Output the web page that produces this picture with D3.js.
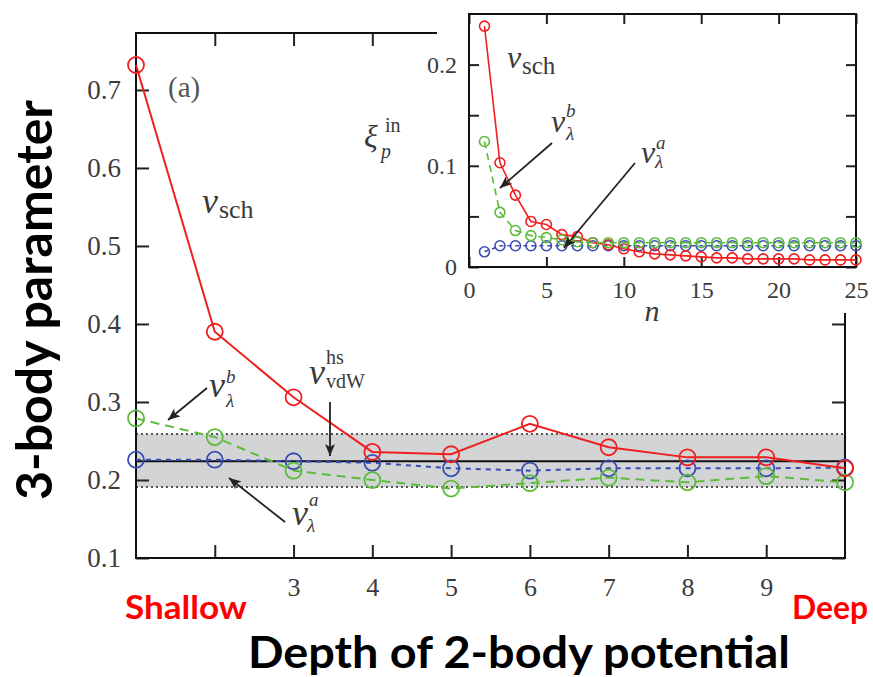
<!DOCTYPE html>
<html>
<head>
<meta charset="utf-8">
<script src="https://cdn.jsdelivr.net/npm/d3@7"></script>
<style>
body { margin: 0; background: #fff; }
svg { display: block; }
</style>
</head>
<body>
<svg id="chart" width="873" height="677"></svg>
<script>
// main panel: depth step 1..10
var depthSteps = [1, 2, 3, 4, 5, 6, 7, 8, 9, 10];
var vSch     = [0.732, 0.390, 0.306, 0.236, 0.233, 0.272, 0.242, 0.229, 0.229, 0.215];
var vLambdaB = [0.279, 0.255, 0.212, 0.200, 0.189, 0.196, 0.203, 0.197, 0.205, 0.197];
var vLambdaA = [0.226, 0.226, 0.224, 0.222, 0.215, 0.212, 0.215, 0.215, 0.215, 0.216];
var vdwLevel = 0.224;
var vdwBand = [0.191, 0.259];
var mainYTicks = [0.1, 0.2, 0.3, 0.4, 0.5, 0.6, 0.7];
var mainXTicks = [2, 3, 4, 5, 6, 7, 8, 9];
var mainXLabels = [3, 4, 5, 6, 7, 8, 9];

// inset: n = 1..25
var insetN = [1, 2, 3, 4, 5, 6, 7, 8, 9, 10, 11, 12, 13, 14, 15, 16, 17, 18, 19, 20, 21, 22, 23, 24, 25];
var insetSch = [0.238, 0.103, 0.071, 0.045, 0.042, 0.032, 0.030, 0.024, 0.022, 0.018, 0.015, 0.013, 0.012,
                0.011, 0.010, 0.009, 0.009, 0.008, 0.008, 0.008, 0.008, 0.007, 0.007, 0.007, 0.007];
var insetB = [0.124, 0.054, 0.036, 0.031, 0.029, 0.027, 0.025, 0.024, 0.024, 0.024, 0.024, 0.024, 0.024,
              0.024, 0.024, 0.024, 0.024, 0.024, 0.024, 0.024, 0.024, 0.024, 0.024, 0.024, 0.024];
var insetA = [0.015, 0.021, 0.021, 0.021, 0.021, 0.021, 0.021, 0.021, 0.021, 0.021, 0.021, 0.021, 0.021,
              0.021, 0.021, 0.021, 0.021, 0.021, 0.021, 0.021, 0.021, 0.021, 0.021, 0.021, 0.021];
var insetYTicks = [0, 0.05, 0.1, 0.15, 0.2];
var insetYLabels = [0, 0.1, 0.2];
var insetXTicks = [0, 5, 10, 15, 20, 25];

var RED = "#f01e1e", GREEN = "#5dbb3c", BLUE = "#3a4cb2";
var serif = "Liberation Serif";
var svg = d3.select("#chart");

var defs = svg.append("defs");
defs.append("marker").attr("id", "head")
    .attr("viewBox", "0 0 12 10").attr("refX", 12).attr("refY", 5)
    .attr("markerWidth", 12).attr("markerHeight", 10)
    .attr("markerUnits", "userSpaceOnUse").attr("orient", "auto")
    .append("path").attr("d", "M0,0 L12,5 L0,10 L3,5 Z").attr("fill", "#222");

function arrow(g, x1, y1, x2, y2) {
    g.append("line").attr("x1", x1).attr("y1", y1).attr("x2", x2).attr("y2", y2)
        .attr("stroke", "#222").attr("stroke-width", 1.8).attr("marker-end", "url(#head)");
}

// v with subscript / superscript
function mathLabel(g, x, y, base, size, sub, sup, subSize, opt) {
    opt = opt || {};
    g.append("text").attr("x", x).attr("y", y).attr("font-family", serif)
        .attr("font-style", "italic").attr("font-size", size).attr("fill", "#3a3a3a").text(base);
    var sx = x + size * 0.47;
    if (sub) g.append("text").attr("x", sx + (opt.subDx || 0)).attr("y", y + (opt.subDy || 6))
        .attr("font-family", serif).attr("font-style", opt.subItalic ? "italic" : "normal")
        .attr("font-size", subSize).attr("fill", "#3a3a3a").text(sub);
    if (sup) g.append("text").attr("x", sx + (opt.supDx || 0)).attr("y", y - (opt.supDy || 14))
        .attr("font-family", serif).attr("font-style", opt.supItalic ? "italic" : "normal")
        .attr("font-size", opt.supSize || subSize).attr("fill", "#3a3a3a").text(sup);
}

// ---------- main panel ----------
var x = d3.scaleLinear().domain([1, 10]).range([136, 845]);
var y = d3.scaleLinear().domain([0.1, 0.773]).range([558, 33]);
var main = svg.append("g");

main.append("rect").attr("x", x(1)).attr("width", x(10) - x(1))
    .attr("y", y(vdwBand[1])).attr("height", y(vdwBand[0]) - y(vdwBand[1]))
    .attr("fill", "#d3d4d6");
vdwBand.forEach(function (v) {
    main.append("line").attr("x1", x(1)).attr("x2", x(10)).attr("y1", y(v)).attr("y2", y(v))
        .attr("stroke", "#555").attr("stroke-width", 2).attr("stroke-dasharray", "2,3");
});
main.append("line").attr("x1", x(1)).attr("x2", x(10)).attr("y1", y(vdwLevel)).attr("y2", y(vdwLevel))
    .attr("stroke", "#111").attr("stroke-width", 2);

function axisStyle(g) {
    g.select(".domain").remove();
    g.selectAll(".tick line").attr("stroke", "#222").attr("stroke-width", 2);
    g.selectAll(".tick text").attr("font-family", serif).attr("fill", "#3c3c3c");
}
main.append("g").attr("transform", "translate(" + x(1) + ",0)")
    .call(d3.axisLeft(y).tickValues(mainYTicks).tickSize(-13).tickPadding(15).tickFormat(d3.format(".1f")))
    .call(axisStyle).selectAll("text").attr("font-size", 27);
main.append("g").attr("transform", "translate(" + x(10) + ",0)")
    .call(d3.axisRight(y).tickValues(mainYTicks).tickSize(-13).tickFormat(""))
    .call(axisStyle);
main.append("g").attr("transform", "translate(0," + y(0.1) + ")")
    .call(d3.axisBottom(x).tickValues(mainXTicks).tickSize(-13).tickPadding(20)
        .tickFormat(function (d) { return mainXLabels.indexOf(d) >= 0 ? d : ""; }))
    .call(axisStyle).selectAll("text").attr("font-size", 26);
main.append("g").attr("transform", "translate(0," + y(0.773) + ")")
    .call(d3.axisTop(x).tickValues(mainXTicks).tickSize(-13).tickFormat(""))
    .call(axisStyle);
main.append("rect").attr("x", x(1)).attr("y", y(0.773)).attr("width", x(10) - x(1))
    .attr("height", y(0.1) - y(0.773)).attr("fill", "none").attr("stroke", "#111").attr("stroke-width", 2);

var mainSeries = [
    { vals: vLambdaA, color: BLUE, dash: "5,5" },
    { vals: vLambdaB, color: GREEN, dash: "9,6" },
    { vals: vSch, color: RED, dash: null }
];
var lineMain = d3.line().x(function (d) { return x(d[0]); }).y(function (d) { return y(d[1]); });
mainSeries.forEach(function (s) {
    var pts = depthSteps.map(function (n, i) { return [n, s.vals[i]]; });
    main.append("path").datum(pts).attr("d", lineMain).attr("fill", "none")
        .attr("stroke", s.color).attr("stroke-width", 2).attr("stroke-dasharray", s.dash);
    main.selectAll(null).data(pts).enter().append("circle")
        .attr("cx", function (d) { return x(d[0]); }).attr("cy", function (d) { return y(d[1]); })
        .attr("r", 8).attr("fill", "none").attr("stroke", s.color).attr("stroke-width", 1.8);
});

main.append("text").attr("x", 168).attr("y", 97).attr("font-family", serif).attr("font-size", 29)
    .attr("fill", "#555").text("(a)");
mathLabel(main, 202, 213, "v", 36, "sch", null, 26, { subDy: 5, subDx: 0 });
main.append("text").attr("x", 364).attr("y", 147).attr("font-family", serif).attr("font-style", "italic")
    .attr("font-size", 32).attr("fill", "#3a3a3a").text("ξ");
main.append("text").attr("x", 381).attr("y", 158).attr("font-family", serif).attr("font-style", "italic")
    .attr("font-size", 20).attr("fill", "#3a3a3a").text("p");
main.append("text").attr("x", 385).attr("y", 132).attr("font-family", serif)
    .attr("font-size", 20).attr("fill", "#3a3a3a").text("in");
mathLabel(main, 309, 384, "v", 36, "vdW", "hs", 20, { subDy: 4, supDy: 20 });
mathLabel(main, 209, 397, "v", 36, "λ", "b", 19, { subDy: 10, supDy: 14, subItalic: true, supItalic: true });
mathLabel(main, 292, 525, "v", 36, "λ", "a", 19, { subDy: 7, supDy: 19, subItalic: true, supItalic: true, subDx: -2 });
arrow(main, 207, 388, 168, 420);
arrow(main, 330, 402, 330, 456);
arrow(main, 285, 522, 229, 478);

// ---------- inset ----------
svg.append("rect").attr("x", 437).attr("y", 0).attr("width", 436).attr("height", 313).attr("fill", "#fff");
var xi = d3.scaleLinear().domain([0, 25]).range([469, 856]);
var yi = d3.scaleLinear().domain([0, 0.25]).range([267, 14]);
var inset = svg.append("g");

inset.append("g").attr("transform", "translate(" + xi(0) + ",0)")
    .call(d3.axisLeft(yi).tickValues(insetYTicks).tickSize(-10).tickPadding(12)
        .tickFormat(function (d) { return insetYLabels.indexOf(d) >= 0 ? d3.format("")(d) : ""; }))
    .call(axisStyle).selectAll("text").attr("font-size", 24);
inset.append("g").attr("transform", "translate(" + xi(25) + ",0)")
    .call(d3.axisRight(yi).tickValues(insetYTicks).tickSize(-10).tickFormat(""))
    .call(axisStyle);
inset.append("g").attr("transform", "translate(0," + yi(0) + ")")
    .call(d3.axisBottom(xi).tickValues(insetXTicks).tickSize(-10).tickPadding(14))
    .call(axisStyle).selectAll("text").attr("font-size", 24);
inset.append("g").attr("transform", "translate(0," + yi(0.25) + ")")
    .call(d3.axisTop(xi).tickValues(insetXTicks).tickSize(-10).tickFormat(""))
    .call(axisStyle);
inset.append("rect").attr("x", xi(0)).attr("y", yi(0.25)).attr("width", xi(25) - xi(0))
    .attr("height", yi(0) - yi(0.25)).attr("fill", "none").attr("stroke", "#111").attr("stroke-width", 2);
inset.append("text").attr("x", 652).attr("y", 321).attr("text-anchor", "middle").attr("font-family", serif)
    .attr("font-style", "italic").attr("font-size", 30).attr("fill", "#3a3a3a").text("n");

var insetSeries = [
    { vals: insetA, color: BLUE, dash: "4,4" },
    { vals: insetSch, color: RED, dash: null },
    { vals: insetB, color: GREEN, dash: "7,5" }
];
var lineInset = d3.line().x(function (d) { return xi(d[0]); }).y(function (d) { return yi(d[1]); });
insetSeries.forEach(function (s) {
    var pts = insetN.map(function (n, i) { return [n, s.vals[i]]; });
    inset.append("path").datum(pts).attr("d", lineInset).attr("fill", "none")
        .attr("stroke", s.color).attr("stroke-width", 1.6).attr("stroke-dasharray", s.dash);
    inset.selectAll(null).data(pts).enter().append("circle")
        .attr("cx", function (d) { return xi(d[0]); }).attr("cy", function (d) { return yi(d[1]); })
        .attr("r", 5).attr("fill", "none").attr("stroke", s.color).attr("stroke-width", 1.6);
});
mathLabel(inset, 507, 68, "v", 32, "sch", null, 25, { subDy: 6 });
mathLabel(inset, 551, 132, "v", 32, "λ", "b", 19, { subDy: 8, supDy: 15, subItalic: true, supItalic: true });
mathLabel(inset, 641, 163, "v", 32, "λ", "a", 19, { subDy: 5, supDy: 14, subItalic: true, supItalic: true, subDx: -1 });
arrow(inset, 552, 143, 500, 188);
arrow(inset, 635, 163, 564, 248);

// ---------- outer slide labels ----------
var sans = "Lato, 'Open Sans', sans-serif";
svg.append("text").attr("transform", "translate(52,300) rotate(-90)").attr("text-anchor", "middle")
    .attr("font-family", sans).attr("font-weight", "bold").attr("font-size", 50)
    .attr("textLength", 400).attr("lengthAdjust", "spacingAndGlyphs").attr("fill", "#000")
    .text("3-body parameter");
svg.append("text").attr("x", 125).attr("y", 619).attr("font-family", sans).attr("font-weight", "bold")
    .attr("font-size", 33).attr("textLength", 122).attr("lengthAdjust", "spacingAndGlyphs")
    .attr("fill", "#ff0000").text("Shallow");
svg.append("text").attr("x", 792).attr("y", 619).attr("font-family", sans).attr("font-weight", "bold")
    .attr("font-size", 33).attr("textLength", 76).attr("lengthAdjust", "spacingAndGlyphs")
    .attr("fill", "#ff0000").text("Deep");
svg.append("text").attr("x", 248).attr("y", 668).attr("font-family", sans).attr("font-weight", "bold")
    .attr("font-size", 44).attr("textLength", 542).attr("lengthAdjust", "spacingAndGlyphs")
    .attr("fill", "#000").text("Depth of 2-body potential");
</script>
</body>
</html>
